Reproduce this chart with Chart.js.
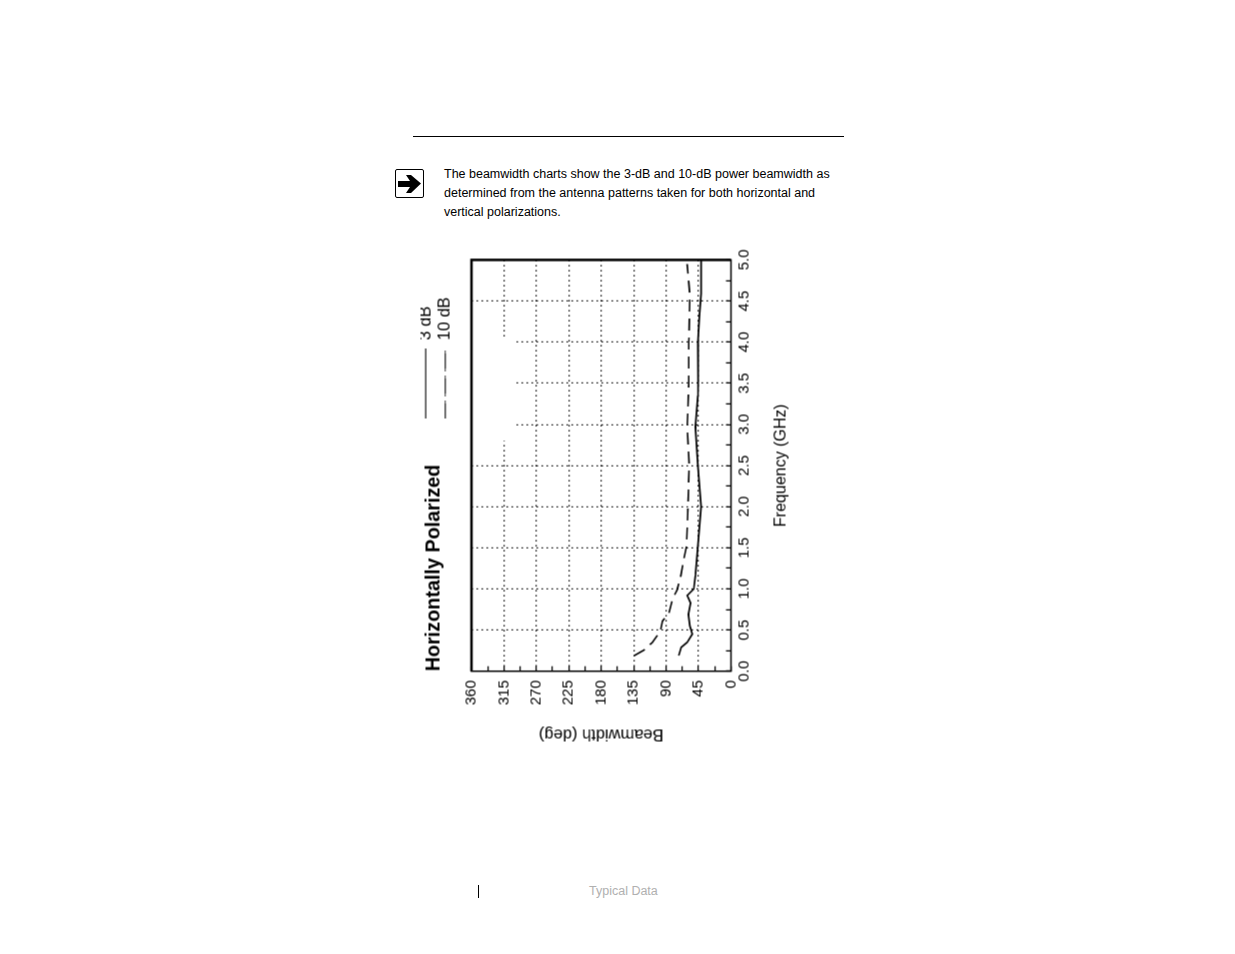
<!DOCTYPE html>
<html lang="en">
<head>
<meta charset="UTF-8">
<title>Horizontally Polarized</title>
<script src="https://cdn.jsdelivr.net/npm/chart.js"></script>
<style>
    html, body { margin: 0; padding: 0; background: #fff; }
    body { width: 1235px; height: 954px; position: relative; overflow: hidden; font-family: 'Liberation Sans', Arial, sans-serif; color: #000; }
    .rule { position: absolute; left: 413px; top: 136px; width: 431px; height: 1px; background: #000; }
    .icon { position: absolute; left: 395px; top: 169px; }
    .note { position: absolute; left: 444px; top: 165px; width: 400px; font-size: 12.5px; line-height: 19px; white-space: nowrap; }
    .bar { position: absolute; left: 478px; top: 885px; width: 1px; height: 13px; background: #000; }
    .footer { position: absolute; left: 589px; top: 884px; font-size: 12.5px; color: #b0b0b0; }
    /* the original page has the plot turned on its side */
    #wrap { position: absolute; left: 352.5px; top: 307.5px; width: 505px; height: 370px; transform: rotate(-90deg); transform-origin: center center; }
</style>
</head>
<body>
<div class="rule"></div>
<svg class="icon" width="30" height="30" viewBox="0 0 30 30">
    <rect x="0.5" y="0.5" width="28" height="28" rx="1.5" fill="#fff" stroke="#000" stroke-width="1"/>
    <path d="M3 12 H15 L11 6 H16 L26 14.5 L16 24 H11 L15 18 H3 Z" fill="#000"/>
</svg>
<div class="note">The beamwidth charts show the 3-dB and 10-dB power beamwidth as<br>determined from the antenna patterns taken for both horizontal and<br>vertical polarizations.</div>
<div id="wrap"><canvas id="chart" width="505" height="370"></canvas></div>
<div class="bar"></div>
<div class="footer">Typical Data</div>

<script>
const seriesNames = ['3 dB', '10 dB'];
const freq3dB = [0.19, 0.29, 0.35, 0.45, 0.55, 0.69, 0.83, 0.92, 1.0, 1.16, 1.52, 2.0, 2.5, 2.97, 3.35, 3.5, 3.99, 4.31, 4.59, 5.0];
const beam3dB = [72.4, 69, 60.8, 53.8, 57, 59, 56, 60.8, 51.6, 49.3, 46, 41.4, 46, 49.3, 46, 45.5, 46, 44, 41.4, 41.4];
const freq10dB = [0.19, 0.255, 0.35, 0.49, 0.61, 0.705, 0.885, 0.99, 1.14, 1.36, 1.52, 1.92, 2.5, 2.97, 3.5, 4.0, 4.57, 4.95];
const beam10dB = [133.9, 121, 109, 97.8, 95, 86, 80.7, 74.7, 70, 65.4, 61.7, 60, 58, 60.8, 58.5, 58.5, 57, 60.8];
// patch of the scan where the grid dots dropped out: freq from/to, deg from/to
const gridGapFreq = [2.8, 4.05];
const gridGapDeg = [299, 360];

function toPoints(xs, ys) { return xs.map((x, i) => ({x: x, y: ys[i]})); }

const fontFamily = "'Liberation Sans', Arial, sans-serif";
const tickFont = {family: fontFamily, size: 15};
const plotBox = {
    id: 'plotBox',
    beforeDatasetsDraw(chart) {
        const {ctx, scales: {x, y}} = chart;
        ctx.save();
        ctx.fillStyle = '#fff';
        const l = x.getPixelForValue(gridGapFreq[0]), r = x.getPixelForValue(gridGapFreq[1]);
        const t = y.getPixelForValue(gridGapDeg[1]), b = y.getPixelForValue(gridGapDeg[0]);
        ctx.fillRect(l, t, r - l, b - t);
        ctx.restore();
    },
    afterDatasetsDraw(chart) {
        const {ctx, chartArea: a} = chart;
        ctx.save();
        ctx.strokeStyle = '#000';
        ctx.lineWidth = 1.5;
        ctx.strokeRect(a.left, a.top, a.right - a.left, a.bottom - a.top);
        // top and right edges of the frame print heavier
        ctx.lineWidth = 2.4;
        ctx.beginPath();
        ctx.moveTo(a.left, a.top);
        ctx.lineTo(a.right, a.top);
        ctx.lineTo(a.right, a.bottom);
        ctx.stroke();
        ctx.restore();
    },
    afterLayout(chart) {
        chart.legend.left = 324;
        chart.legend.top = -6;
    }
};

new Chart(document.getElementById('chart'), {
    type: 'scatter',
    data: {
        datasets: [
            {label: seriesNames[0], data: toPoints(freq3dB, beam3dB), showLine: true, borderColor: '#000', backgroundColor: 'transparent', borderWidth: 1.7, pointRadius: 0},
            {label: seriesNames[1], data: toPoints(freq10dB, beam10dB), showLine: true, borderColor: '#000', backgroundColor: 'transparent', borderWidth: 1.6, borderDash: [12, 7], pointRadius: 0}
        ]
    },
    options: {
        responsive: false,
        animation: false,
        plugins: {
            tooltip: {enabled: false},
            title: {
                display: true,
                text: 'Horizontally Polarized',
                align: 'start',
                fullSize: false,
                color: '#000',
                font: {family: fontFamily, size: 19.8, weight: 'bold'},
                padding: {top: 2, bottom: 25.2}
            },
            legend: {
                position: 'chartArea',
                align: 'start',
                labels: {
                    boxWidth: 70,
                    boxHeight: 0,
                    padding: 3,
                    color: '#000',
                    font: {family: fontFamily, size: 16.5},
                    generateLabels(chart) {
                        return chart.data.datasets.map((d, i) => ({
                            text: d.label, fillStyle: 'transparent', strokeStyle: '#333', lineWidth: 1,
                            lineDash: i ? [18, 7] : [], datasetIndex: i
                        }));
                    }
                }
            }
        },
        scales: {
            x: {
                type: 'linear', min: 0, max: 5,
                afterFit(s) { s.height = 59.5; },
                title: {display: true, text: 'Frequency (GHz)', color: '#000', font: {family: fontFamily, size: 16}, padding: {top: 10, bottom: 0}},
                border: {display: false, dash: [1.5, 3.5]},
                grid: {
                    color: c => (c.tick.value * 2) % 1 === 0 && c.tick.value > 0 && c.tick.value < 5 ? '#000' : 'transparent',
                    lineWidth: 1.2, tickColor: '#000', tickLength: -5, tickWidth: 1.3
                },
                ticks: {stepSize: 0.25, autoSkip: false, maxRotation: 0, minRotation: 0, color: '#000', font: tickFont, padding: 9,
                    callback: v => (v * 2) % 1 === 0 ? v.toFixed(1) : ''}
            },
            y: {
                type: 'linear', min: 0, max: 360,
                afterFit(s) { s.width = 74.3; },
                title: {display: true, text: 'Beamwidth (deg)', color: '#000', font: {family: fontFamily, size: 16.5}, padding: {top: 2, bottom: 0}},
                border: {display: false, dash: [1.5, 3.5]},
                grid: {
                    color: c => c.tick.value % 45 === 0 && c.tick.value > 0 && c.tick.value < 360 ? '#000' : 'transparent',
                    lineWidth: 1.2, tickColor: '#000', tickLength: -5, tickWidth: 1.3
                },
                ticks: {stepSize: 22.5, autoSkip: false, color: '#000', font: tickFont, padding: 14,
                    callback: v => v % 45 === 0 ? v : ''}
            }
        }
    },
    plugins: [plotBox]
});
</script>
</body>
</html>
